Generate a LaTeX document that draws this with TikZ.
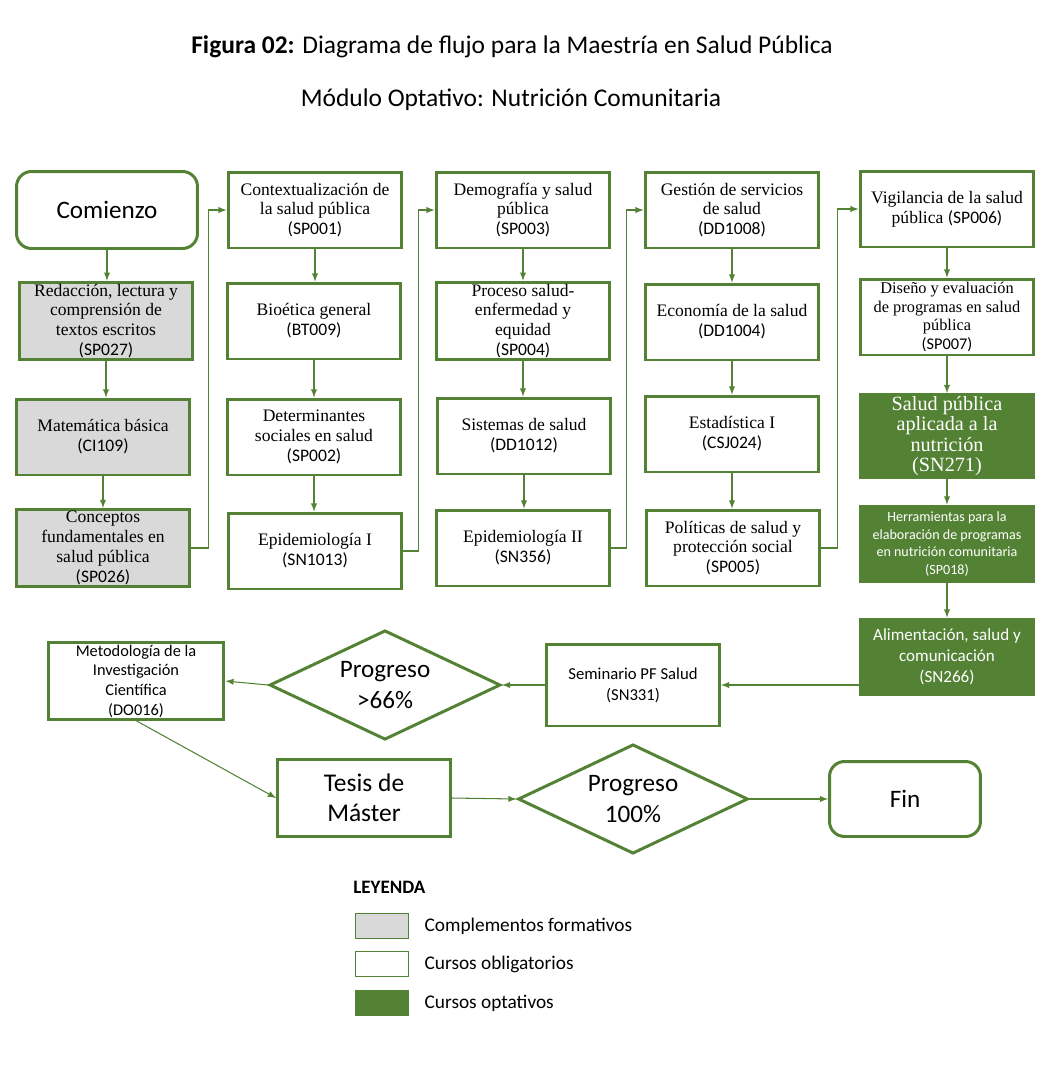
\documentclass[tikz,border=0pt]{standalone}
\usepackage{fontspec}
\setmainfont{Liberation Serif}
\setsansfont{Carlito}
\usepackage{tikz}
\usetikzlibrary{arrows,shapes.geometric,positioning}

\definecolor{verde}{HTML}{548235}
\definecolor{gris}{HTML}{D9D9D9}

\tikzset{
  curso/.style={draw=verde, line width=1.7pt, minimum width=3.48cm, minimum height=1.52cm,
    align=center, inner sep=1pt, font=\fontsize{10}{11.3}\selectfont},
  compl/.style={curso, fill=gris},
  optat/.style={curso, fill=verde, text=white},
  extremo/.style={draw=verde, line width=1.7pt, rounded corners=0.3cm, align=center,
    font=\sffamily\fontsize{14.3}{17}\selectfont},
  decision/.style={diamond, draw=verde, line width=1.7pt, inner sep=-4pt, align=center,
    font=\sffamily\fontsize{14.3}{17.5}\selectfont},
  flecha/.style={-latex, verde, line width=0.6pt},
  muestra/.style={draw=verde, line width=0.9pt, minimum width=1.06cm, minimum height=0.5cm},
  leyenda/.style={font=\sffamily\fontsize{11}{13}\selectfont, inner sep=0pt}
}
\newcommand{\cod}[1]{{\sffamily(#1)}}

\begin{document}
\begin{tikzpicture}[x=0.02cm, y=-0.02cm]
    \useasboundingbox (0,0) rectangle (1053,1076);

    \node[font=\sffamily\fontsize{14.5}{17}\selectfont] (tit) at (512,47)
        {\textbf{Figura 02:} Diagrama de flujo para la Maestría en Salud Pública};
    \node[font=\sffamily\fontsize{14.5}{17}\selectfont] (sub) at (511,100)
        {Módulo Optativo: Nutrición Comunitaria};

    \node[extremo, minimum width=3.62cm, minimum height=1.54cm] (ini) at (107,210) {Comienzo};
    \node[compl] (sp027) at (106,321) {Redacción, lectura y\\comprensión de\\textos escritos\\\cod{SP027}};
    \node[compl] (ci109) at (103,437) {Matemática básica\\\cod{CI109}};
    \node[compl] (sp026) at (103,548) {Conceptos\\fundamentales en\\salud pública\\\cod{SP026}};

    \node[curso] (sp001) at (315,210) {Contextualización de\\la salud pública\\\cod{SP001}};
    \node[curso] (bt009) at (314,321) {Bioética general\\\cod{BT009}};
    \node[curso] (sp002) at (314,437) {Determinantes\\sociales en salud\\\cod{SP002}};
    \node[curso] (sn1013) at (315,551) {Epidemiología I\\\cod{SN1013}};

    \node[curso] (sp003) at (523,210) {Demografía y salud\\pública\\\cod{SP003}};
    \node[curso] (sp004) at (523,321) {Proceso salud-\\enfermedad y\\equidad\\\cod{SP004}};
    \node[curso] (dd1012) at (524,436) {Sistemas de salud\\\cod{DD1012}};
    \node[curso] (sn356) at (523,548) {Epidemiología II\\\cod{SN356}};

    \node[curso] (dd1008) at (732,210) {Gestión de servicios\\de salud\\\cod{DD1008}};
    \node[curso] (dd1004) at (732,322) {Economía de la salud\\\cod{DD1004}};
    \node[curso] (csj024) at (732,434) {Estadística I\\\cod{CSJ024}};
    \node[curso] (sp005) at (733,548) {Políticas de salud y\\protección social\\\cod{SP005}};

    \node[curso] (sp006) at (947,209) {Vigilancia de la salud\\pública \cod{SP006}};
    \node[curso, font=\fontsize{9.3}{10.6}\selectfont] (sp007) at (947,317)
        {Diseño y evaluación\\de programas en salud\\pública\\\cod{SP007}};
    \node[optat, minimum height=1.6cm, font=\fontsize{11.5}{11.6}\selectfont] (sn271) at (947,436)
        {Salud pública\\aplicada a la\\nutrición\\(SN271)};
    \node[optat, font=\sffamily\fontsize{8}{9.9}\selectfont] (sp018) at (947,544)
        {Herramientas para la\\elaboración de programas\\en nutrición comunitaria\\(SP018)};
    \node[optat, font=\sffamily\fontsize{9.7}{12}\selectfont] (sn266) at (947,657)
        {Alimentación, salud y\\comunicación\\(SN266)};

    \node[curso, minimum width=3.46cm, minimum height=1.64cm, font=\sffamily\fontsize{9.5}{12}\selectfont]
        (sn331) at (633,685) {Seminario PF Salud\\(SN331)};
    \node[decision, minimum width=4.62cm, minimum height=1.88cm] (p66) at (385,685) {Progreso\\>66\%};
    \node[curso, minimum width=3.52cm, font=\sffamily\fontsize{9.3}{11.2}\selectfont] (do016) at (136,681)
        {Metodología de la\\Investigación\\Científica\\(DO016)};
    \node[curso, minimum width=3.46cm, minimum height=1.54cm, font=\sffamily\fontsize{14.5}{17}\selectfont]
        (tesis) at (364,798) {Tesis de\\Máster};
    \node[decision, minimum width=4.6cm, minimum height=2.1cm] (p100) at (633,799) {Progreso\\100\%};
    \node[extremo, minimum width=3.02cm, minimum height=1.5cm] (fin) at (905,799) {Fin};

    \draw[flecha] (ini.south) -- (ini.south |- sp027.north);
    \draw[flecha] (sp027.south) -- (sp027.south |- ci109.north);
    \draw[flecha] (ci109.south) -- (ci109.south |- sp026.north);
    \draw[flecha] (sp026.east) -- ++(17,0) |- (sp001.west);

    \draw[flecha] (sp001.south) -- (sp001.south |- bt009.north);
    \draw[flecha] (bt009.south) -- (bt009.south |- sp002.north);
    \draw[flecha] (sp002.south) -- (sp002.south |- sn1013.north);
    \draw[flecha] (sn1013.east) -- ++(15,0) |- (sp003.west);

    \draw[flecha] (sp003.south) -- (sp003.south |- sp004.north);
    \draw[flecha] (sp004.south) -- (sp004.south |- dd1012.north);
    \draw[flecha] (dd1012.south) -- (dd1012.south |- sn356.north);
    \draw[flecha] (sn356.east) -- ++(15,0) |- (dd1008.west);

    \draw[flecha] (dd1008.south) -- (dd1008.south |- dd1004.north);
    \draw[flecha] (dd1004.south) -- (dd1004.south |- csj024.north);
    \draw[flecha] (csj024.south) -- (csj024.south |- sp005.north);
    \draw[flecha] (sp005.east) -- ++(16,0) |- (sp006.west);

    \draw[flecha] (sp006.south) -- (sp006.south |- sp007.north);
    \draw[flecha] (sp007.south) -- (sp007.south |- sn271.north);
    \draw[flecha] (sn271.south) -- (sn271.south |- sp018.north);
    \draw[flecha] (sp018.south) -- (sp018.south |- sn266.north);

    \draw[flecha] (sn266.west |- sn331.east) -- (sn331.east);
    \draw[flecha] (sn331.west) -- (p66.east);
    \draw[flecha] (p66.west) -- (do016.east);
    \draw[flecha] (do016.south) -- (tesis.west);
    \draw[flecha] (tesis.east) -- (p100.west);
    \draw[flecha] (p100.east) -- (fin.west);

    \node[font=\sffamily\bfseries\fontsize{10.8}{12}\selectfont, anchor=west, inner sep=0pt] (ley) at (353,887) {LEYENDA};
    \node[muestra, fill=gris] (mc) at (382,926) {};
    \node[muestra, fill=white] (mo) at (382,964) {};
    \node[muestra, fill=verde] (mp) at (382,1003) {};
    \node[leyenda, right=0.3cm of mc] (tc) {Complementos formativos};
    \node[leyenda, right=0.3cm of mo] (to) {Cursos obligatorios};
    \node[leyenda, right=0.3cm of mp] (tp) {Cursos optativos};
\end{tikzpicture}
\end{document}
